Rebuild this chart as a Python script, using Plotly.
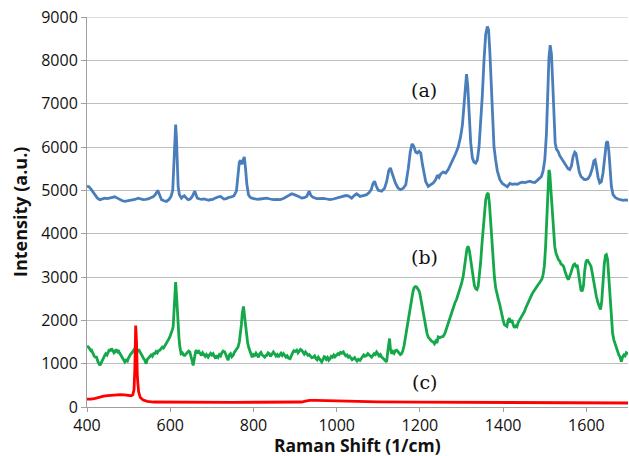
import plotly.graph_objects as go

# ---- data ----
# (a) blue spectrum
shift_a = [400,405,410,415,420,425,431,437,443,449,455,461,467,473,479,485,491,497,503,509,515,523,529,535,541,547,553,559,564,570,575,579,585,591,597,602,606,609,612,613,615,617,619,622,627,631,634,638,643,648,653,659,662,665,671,676,681,687,693,697,701,706,711,716,721,725,729,735,741,747,753,759,763,766,769,772,775,778,781,784,788,792,796,803,810,816,824,832,840,848,856,864,872,880,886,892,898,904,910,916,922,928,934,938,943,952,960,968,976,984,992,1000,1008,1016,1022,1028,1036,1042,1048,1052,1056,1064,1072,1078,1083,1087,1091,1095,1100,1108,1115,1120,1125,1129,1133,1137,1141,1147,1153,1160,1166,1172,1177,1181,1185,1190,1194,1198,1202,1206,1210,1214,1220,1226,1232,1238,1242,1246,1250,1256,1262,1268,1274,1280,1286,1292,1298,1302,1306,1310,1312,1315,1318,1322,1326,1330,1334,1338,1342,1346,1350,1354,1358,1362,1365,1368,1371,1374,1378,1382,1386,1392,1398,1404,1410,1416,1422,1428,1434,1440,1446,1452,1458,1464,1470,1476,1482,1488,1492,1496,1500,1504,1507,1510,1513,1516,1519,1522,1525,1528,1532,1536,1540,1544,1548,1552,1556,1560,1564,1568,1572,1575,1579,1583,1587,1591,1595,1599,1604,1609,1614,1618,1621,1624,1628,1632,1636,1640,1644,1648,1651,1654,1657,1660,1664,1670,1676,1682,1688,1694,1700]
intensity_a = [5100,5080,5020,4950,4860,4820,4785,4800,4820,4810,4825,4840,4850,4820,4785,4760,4745,4755,4760,4775,4790,4820,4800,4785,4790,4800,4830,4850,4900,5000,4880,4785,4760,4745,4790,4860,5000,5600,6300,6515,6200,5500,5090,4900,4820,4860,4875,4830,4785,4800,4860,4980,4900,4820,4800,4790,4800,4780,4770,4790,4785,4810,4840,4850,4860,4830,4800,4810,4840,4850,4870,4980,5300,5650,5690,5600,5700,5770,5500,5150,4900,4840,4820,4800,4790,4800,4810,4820,4800,4785,4790,4785,4810,4850,4890,4920,4900,4880,4850,4820,4830,4860,4980,4880,4840,4810,4815,4815,4800,4785,4800,4820,4850,4875,4880,4875,4820,4880,4920,4890,4860,4880,4900,4950,5015,5150,5210,5100,5000,4980,5050,5200,5450,5515,5400,5250,5170,5060,5015,5050,5130,5500,5900,6070,6020,5880,5860,5900,5860,5600,5350,5200,5090,5130,5170,5250,5350,5300,5380,5420,5400,5480,5600,5720,5850,6000,6250,6500,7000,7550,7680,7400,6800,6100,5750,5650,5630,5700,6000,6500,7200,8000,8600,8780,8700,8200,7400,6600,6000,5700,5450,5250,5160,5120,5080,5160,5140,5150,5140,5170,5190,5180,5200,5210,5190,5180,5230,5280,5320,5450,5700,6300,7200,8050,8350,8150,7500,6700,6100,5950,5900,5800,5740,5710,5650,5560,5500,5480,5560,5780,5880,5850,5650,5420,5320,5280,5250,5250,5270,5350,5500,5680,5700,5550,5300,5170,5200,5400,5850,6100,6130,5900,5500,5100,4900,4830,4800,4790,4770,4780,4770]

# (b) green spectrum
shift_b = [400,403,406,409,411,414,417,420,423,426,429,431,434,437,439,442,445,448,451,454,457,459,462,465,467,470,473,475,478,481,483,486,489,491,494,497,499,502,505,508,511,515,518,521,524,527,530,533,536,539,542,545,548,551,554,557,560,563,566,569,572,575,578,581,584,587,590,593,596,599,602,605,607,609,611,613,615,617,619,621,623,626,629,632,635,638,641,644,647,650,653,655,658,661,663,666,669,672,675,678,681,684,687,691,694,697,700,703,706,709,712,715,718,721,724,727,731,734,737,739,742,745,748,751,754,757,760,763,766,769,771,773,776,778,780,782,784,786,789,791,794,797,800,803,806,809,812,815,818,821,824,827,830,832,835,838,841,844,848,851,854,857,860,863,866,869,872,875,878,881,884,888,891,894,897,900,904,907,910,913,916,919,922,925,928,931,934,937,940,944,947,950,953,956,959,962,964,967,970,972,975,978,981,984,987,990,993,996,1000,1003,1006,1009,1012,1016,1019,1022,1025,1028,1031,1034,1037,1040,1043,1046,1049,1052,1056,1059,1062,1065,1068,1072,1075,1078,1081,1084,1087,1090,1093,1096,1099,1102,1105,1108,1111,1114,1117,1120,1123,1125,1127,1129,1132,1135,1138,1141,1144,1147,1150,1153,1156,1159,1162,1165,1168,1171,1174,1177,1180,1183,1186,1189,1192,1195,1198,1200,1203,1206,1210,1213,1217,1220,1224,1228,1232,1235,1238,1241,1244,1248,1252,1256,1260,1264,1268,1272,1276,1280,1284,1288,1292,1296,1300,1304,1307,1310,1313,1316,1319,1322,1325,1328,1331,1334,1337,1340,1343,1346,1349,1352,1355,1358,1361,1364,1367,1370,1373,1376,1379,1382,1385,1388,1391,1394,1397,1400,1403,1406,1409,1412,1415,1418,1421,1424,1427,1430,1433,1436,1439,1442,1445,1448,1451,1454,1457,1460,1463,1466,1469,1472,1475,1478,1481,1484,1487,1490,1493,1496,1499,1502,1505,1508,1510,1512,1515,1518,1521,1524,1527,1530,1533,1536,1539,1542,1545,1548,1551,1554,1557,1560,1563,1566,1569,1572,1575,1578,1581,1584,1587,1590,1593,1596,1599,1602,1605,1608,1611,1614,1617,1620,1624,1628,1631,1634,1637,1640,1643,1646,1648,1651,1654,1657,1660,1663,1666,1669,1672,1675,1678,1681,1684,1687,1690,1693,1696,1700]
intensity_b = [1400,1385,1350,1300,1310,1230,1180,1150,1150,1050,1000,960,1020,1100,1115,1180,1230,1200,1270,1330,1290,1350,1300,1250,1270,1330,1280,1310,1250,1200,1150,1100,1070,1040,1080,1060,1115,1180,1220,1250,1300,1350,1310,1280,1330,1270,1200,1150,1120,1080,1000,1100,1130,1150,1200,1170,1230,1230,1280,1250,1300,1310,1340,1380,1360,1420,1450,1500,1560,1615,1680,1780,1850,2200,2650,2885,2600,2150,1850,1600,1400,1230,1250,1200,1190,1230,1250,1290,1270,1180,1050,960,1150,1280,1310,1240,1280,1230,1190,1250,1200,1170,1210,1150,1200,1240,1200,1230,1170,1120,1190,1150,1210,1180,1250,1290,1270,1180,1130,1080,1200,1230,1160,1190,1260,1300,1330,1385,1500,1700,1900,2150,2320,2150,1950,1850,1650,1480,1360,1310,1200,1150,1210,1190,1240,1200,1150,1230,1260,1200,1180,1150,1190,1190,1250,1230,1170,1220,1270,1230,1180,1210,1150,1200,1240,1190,1230,1190,1150,1180,1130,1115,1200,1250,1300,1280,1310,1250,1290,1330,1310,1250,1220,1270,1230,1190,1210,1170,1140,1150,1180,1120,1090,1150,1100,1040,1040,1100,1160,1150,1100,1140,1080,1115,1170,1150,1200,1160,1190,1230,1210,1260,1240,1270,1220,1180,1200,1150,1170,1130,1090,1115,1140,1090,1060,1100,1075,1120,1160,1200,1170,1190,1230,1200,1170,1150,1190,1230,1210,1270,1230,1180,1210,1150,1130,1100,1060,1040,1300,1500,1580,1350,1230,1280,1240,1300,1310,1280,1250,1210,1230,1300,1420,1600,1770,1950,2150,2350,2460,2650,2750,2780,2770,2720,2680,2610,2450,2250,2000,1850,1700,1615,1560,1520,1500,1460,1520,1480,1615,1600,1620,1630,1700,1820,1950,2090,2200,2280,2400,2480,2600,2700,2850,3015,3200,3450,3650,3710,3600,3400,3150,2950,2800,2730,2710,2780,3000,3350,3750,4150,4500,4780,4900,4940,4700,4200,3700,3300,3000,2750,2600,2500,2400,2250,2100,2000,1900,1870,1860,2000,2050,1950,2010,1900,1830,1870,1850,1950,2000,2030,2100,2150,2200,2280,2350,2420,2480,2550,2600,2650,2700,2720,2790,2820,2860,2900,2950,3050,3250,3700,4300,5000,5470,5400,4900,4400,4000,3700,3550,3450,3400,3370,3300,3280,3250,3150,3050,2980,2940,3000,3100,3200,3280,3300,3250,3280,3050,2850,2700,2670,2800,3150,3350,3400,3350,3300,3250,3100,2900,2700,2550,2400,2300,2250,2450,2900,3300,3500,3515,3400,3000,2500,2050,1700,1550,1450,1350,1280,1200,1150,1050,1150,1200,1180,1250,1220]

# (c) red spectrum
shift_c = [400,410,420,430,440,450,460,470,480,490,500,506,510,513,515,517,519,521,524,528,535,545,560,600,650,700,750,800,850,900,915,925,935,950,970,990,1010,1030,1060,1100,1200,1300,1400,1500,1600,1700]
intensity_c = [180,180,200,230,250,260,270,280,285,280,260,260,280,400,900,1880,1500,700,350,220,160,130,115,110,105,110,105,110,108,110,115,135,155,155,150,145,135,125,120,118,112,108,103,98,95,92]

labels = ["(a)", "(b)", "(c)"]
label_x = [1210, 1210, 1210]
label_y = [7320, 3470, 570]

x_ticks = [400, 600, 800, 1000, 1200, 1400, 1600]
y_ticks = [0, 1000, 2000, 3000, 4000, 5000, 6000, 7000, 8000, 9000]

fig = go.Figure()
fig.add_trace(go.Scatter(x=shift_a, y=intensity_a, mode="lines",
                         line=dict(color="#4A7EBB", width=2.8), name="(a)"))
fig.add_trace(go.Scatter(x=shift_b, y=intensity_b, mode="lines",
                         line=dict(color="#14A84A", width=2.8), name="(b)"))
fig.add_trace(go.Scatter(x=shift_c, y=intensity_c, mode="lines",
                         line=dict(color="#FF0000", width=2.8), name="(c)"))

for t, xx, yy in zip(labels, label_x, label_y):
    fig.add_annotation(x=xx, y=yy, text=t, showarrow=False,
                       font=dict(family="DejaVu Serif", size=19, color="#111111"))

# top gridline (edge of the plot area) drawn explicitly
fig.add_shape(type="line", xref="paper", yref="y", x0=0, x1=1,
              y0=y_ticks[-1], y1=y_ticks[-1], layer="below",
              line=dict(color="#BDBDBD", width=1))

# axis titles placed as paper-anchored annotations
fig.add_annotation(xref="paper", yref="paper", x=0.5, y=0, yshift=-38,
                   text="<b>Raman Shift (1/cm)</b>", showarrow=False,
                   xanchor="center", yanchor="middle",
                   font=dict(family="Open Sans", size=17.5, color="#111111"))
fig.add_annotation(xref="paper", yref="paper", x=0, xshift=-67, y=0.5,
                   text="<b>Intensity (a.u.)</b>", showarrow=False, textangle=-90,
                   xanchor="center", yanchor="middle",
                   font=dict(family="Open Sans", size=18, color="#111111"))

fig.update_layout(
    width=629, height=456,
    margin=dict(l=87, r=1, t=17, b=49, autoexpand=False),
    paper_bgcolor="white", plot_bgcolor="white",
    showlegend=False,
    font=dict(family="Open Sans", size=16, color="#111111"),
)
fig.update_xaxes(
    range=[400, 1700], tickvals=x_ticks, showgrid=False, automargin=False,
    showline=True, linecolor="#A0A0A0", linewidth=1,
    ticks="outside", ticklen=4, tickcolor="#A0A0A0",
    tickfont=dict(family="Open Sans", size=16), ticklabeloverflow="allow",
    zeroline=False,
)
fig.update_yaxes(
    range=[0, 9000], tickvals=y_ticks, showgrid=True, gridcolor="#BDBDBD", gridwidth=1,
    automargin=False,
    showline=True, linecolor="#A0A0A0", linewidth=1,
    ticks="outside", ticklen=5, tickcolor="#A0A0A0",
    tickfont=dict(family="Open Sans", size=16), ticklabeloverflow="allow",
    zeroline=False,
)

# remove the default 8px page margin so the figure fills the window exactly
fig.write_html("out.html", config={"displayModeBar": False},
               post_script="document.body.style.margin='0';")
